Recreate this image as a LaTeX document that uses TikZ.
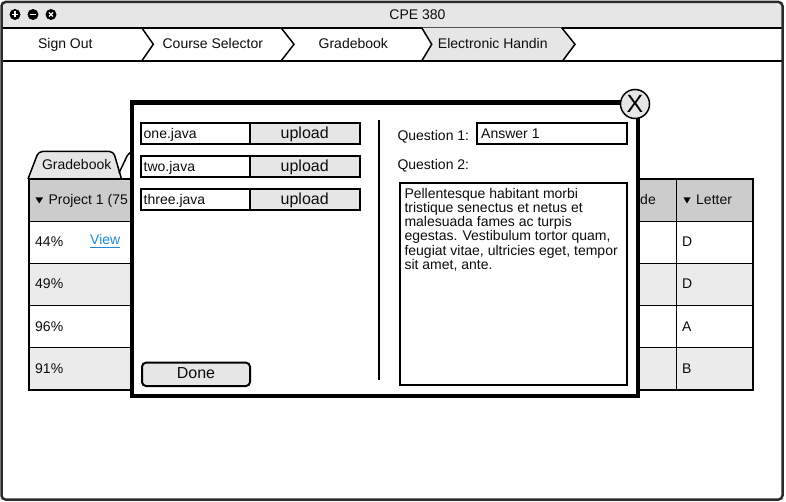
\documentclass[tikz,border=0pt]{standalone}
\usepackage{fontspec}
\setmainfont{Liberation Sans}
\usetikzlibrary{calc}
\definecolor{panelgray}{HTML}{E6E6E6}
\definecolor{headgray}{HTML}{CCCCCC}
\definecolor{rowgray}{HTML}{EBEBEB}
\definecolor{framegray}{HTML}{2B2B2B}
\definecolor{linkblue}{HTML}{1A8CD8}
\def\fsize#1{\fontsize{#1}{#1}\selectfont}

\begin{document}
\begin{tikzpicture}[x=1pt, y=-1pt,
	txt/.style={inner sep=0pt, anchor=base west, text=black!95, font=\fsize{14}},
	ctxt/.style={txt, anchor=base},
	box/.style={draw=black, line width=2pt}]
		%%%%% START %%%%%
		\useasboundingbox (0,0) rectangle (786,502);
		
		% window and title bar
		\fill[white, rounded corners=4pt] (1.5,2) rectangle (782.5,499.5);
		\fill[panelgray, rounded corners=4pt] (1.5,2) rectangle (782.5,27.7);
		\fill[panelgray] (1.5,14) rectangle (782.5,27.7);
		\draw[line width=2pt] (1.5,27.7) -- (782.5,27.7);
		\fill (15,14.5) circle (5.5);
		\draw[white, line width=1.4pt] (12,14.5) -- (18,14.5) (15,11.5) -- (15,17.5);
		\fill (33,14.5) circle (5.5);
		\draw[white, line width=1.4pt] (30,14.5) -- (36,14.5);
		\fill (51,14.5) circle (5.5);
		\draw[white, line width=1.3pt] (49,12.5) -- (53,16.5) (49,16.5) -- (53,12.5);
		\node[ctxt] (title) at (417.5,19.3) {CPE 380};
		
		% breadcrumb
		\fill[panelgray] (421.7,27.7) -- (561.7,27.7) -- (575,44.3) -- (562.5,61) -- (421.7,61) -- (431.7,44.3) -- cycle;
		\draw[line width=1.5pt] (141.7,27.7) -- (153.3,44.3) -- (141.7,61);
		\draw[line width=1.5pt] (281,27.7) -- (294,44.3) -- (281,61);
		\draw[line width=1.5pt] (421.7,27.7) -- (431.7,44.3) -- (421.7,61);
		\draw[line width=1.5pt] (561.7,27.7) -- (575,44.3) -- (562.5,61);
		\draw[line width=2pt] (1.5,61) -- (782.5,61);
		\node[ctxt] (signout) at (65.3,49) {Sign Out};
		\node[ctxt] (courses) at (212.8,49) {Course Selector};
		\node[ctxt] (gradebook) at (353.3,49) {Gradebook};
		\node[ctxt] (handin) at (492.8,49) {Electronic Handin};
		
		% tabs
		\draw[line width=1.5pt, fill=panelgray, rounded corners=4pt] (28,179) -- (38.5,151.5) -- (113.5,151.5) -- (121.5,179);
		\draw[line width=1.5pt, rounded corners=4pt] (119,173) -- (129,152) -- (140,152);
		\node[ctxt] (gbtab) at (76.7,170) {Gradebook};
		
		% table
		\fill[headgray] (29,179) rectangle (753,221.5);
		\fill[rowgray] (29,263.3) rectangle (753,305.3);
		\fill[rowgray] (29,347.3) rectangle (753,390);
		\draw[line width=1pt] (29,221.5) -- (753,221.5);
		\draw[line width=1pt] (29,263.3) -- (753,263.3);
		\draw[line width=1pt] (29,305.3) -- (753,305.3);
		\draw[line width=1pt] (29,347.3) -- (753,347.3);
		\draw[line width=1pt] (676,179) -- (676,390);
		\draw[line width=2.5pt] (29,179) rectangle (753,390);
		\fill (35.5,197.5) -- (43,197.5) -- (39.25,203.5) -- cycle;
		\node[txt] (project) at (48.3,205) {Project 1 (75};
		\node[txt, anchor=base east] (grade) at (656,205) {de};
		\fill (683.5,197.5) -- (690.5,197.5) -- (687,203.5) -- cycle;
		\node[txt] (letter) at (696,205) {Letter};
		\node[txt] (pone) at (35,247) {44\%};
		\node[txt] (ptwo) at (35,289) {49\%};
		\node[txt] (pthree) at (35,331) {96\%};
		\node[txt] (pfour) at (35,373) {91\%};
		\node[txt, text=linkblue] (view) at (90,245) {View};
		\draw[linkblue, line width=0.9pt] ($(view.base west)+(0,2)$) -- ($(view.base east)+(0,2)$);
		\node[txt] (lone) at (682,247) {D};
		\node[txt] (ltwo) at (682,289) {D};
		\node[txt] (lthree) at (682,331) {A};
		\node[txt] (lfour) at (682,373) {B};
		
		% dialog
		\draw[line width=4.5pt, fill=white] (132,102.5) rectangle (638,396);
		\draw[line width=1.5pt, fill=panelgray] (635,104) circle (14.5);
		\node[inner sep=0pt, font=\fsize{25}] (close) at (635,104) {X};
		
		\draw[box, fill=white] (141,122.7) rectangle (250,144.3);
		\draw[box, fill=panelgray] (250,122.7) rectangle (359.5,144.3);
		\node[txt] (fone) at (143.5,138.5) {one.java};
		\node[ctxt, font=\fsize{16}] (upone) at (304.7,138.5) {upload};
		
		\draw[box, fill=white] (141,155.7) rectangle (250,177.3);
		\draw[box, fill=panelgray] (250,155.7) rectangle (359.5,177.3);
		\node[txt] (ftwo) at (143.5,171.5) {two.java};
		\node[ctxt, font=\fsize{16}] (uptwo) at (304.7,171.5) {upload};
		
		\draw[box, fill=white] (141,188.7) rectangle (250,210.3);
		\draw[box, fill=panelgray] (250,188.7) rectangle (359.5,210.3);
		\node[txt] (fthree) at (143.5,204.5) {three.java};
		\node[ctxt, font=\fsize{16}] (upthree) at (304.7,204.5) {upload};
		
		\draw[box, fill=panelgray, rounded corners=4pt] (142,362.7) rectangle (250,386);
		\node[ctxt, font=\fsize{16}] (done) at (196,378.3) {Done};
		
		\draw[line width=2pt] (378.5,120) -- (378.5,380);
		
		\node[txt] (qone) at (397.3,141) {Question 1:};
		\draw[box, fill=white] (476.7,122.7) rectangle (626.7,144.3);
		\node[txt] (aone) at (481,138.3) {Answer 1};
		\node[txt] (qtwo) at (397.3,170) {Question 2:};
		\draw[box, fill=white] (400,183) rectangle (626.5,385);
		\node[txt] (aline1) at (404.3,198.3) {Pellentesque habitant morbi};
		\node[txt] (aline2) at (404.3,212.5) {tristique senectus et netus et};
		\node[txt] (aline3) at (404.3,226.7) {malesuada fames ac turpis};
		\node[txt] (aline4) at (404.3,240.9) {egestas. Vestibulum tortor quam,};
		\node[txt] (aline5) at (404.3,255.1) {feugiat vitae, ultricies eget, tempor};
		\node[txt] (aline6) at (404.3,269.3) {sit amet, ante.};
		
		% outer frame
		\draw[framegray, line width=2.5pt, rounded corners=4pt] (1.5,2) rectangle (782.5,499.5);
		%%%%% END %%%%%
\end{tikzpicture}
\end{document}
